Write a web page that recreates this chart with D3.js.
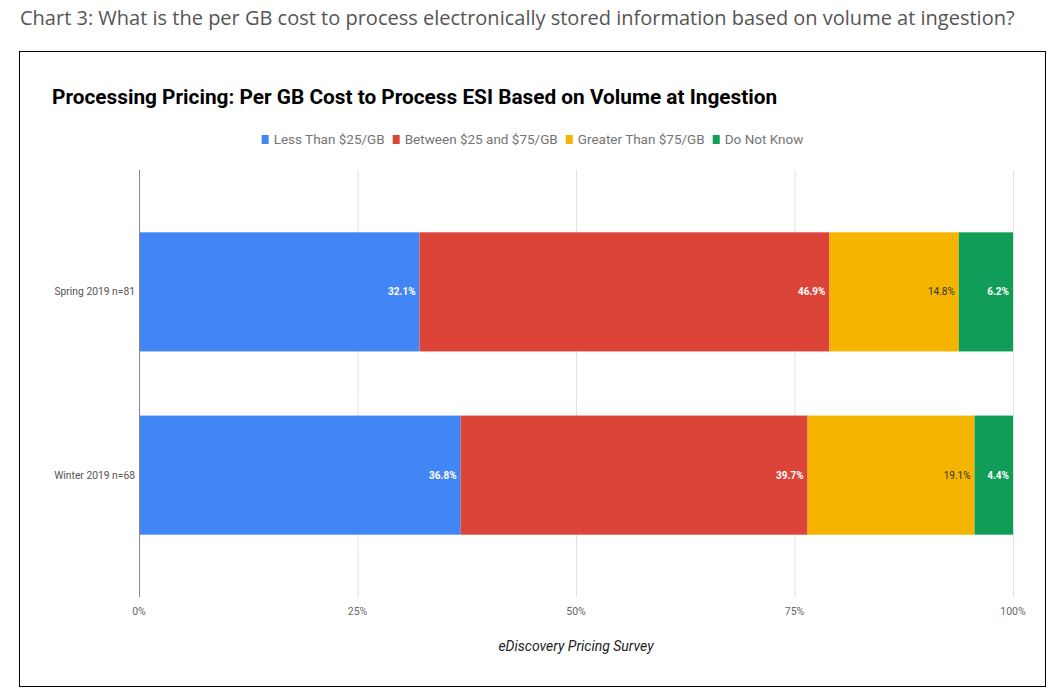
<!DOCTYPE html>
<html lang="en">
<head>
<meta charset="UTF-8">
<title>Processing Pricing</title>
<script src="https://cdn.jsdelivr.net/npm/d3@7"></script>
<style>
  body { margin: 0; background: #fff; }
  svg { display: block; }
</style>
</head>
<body>
<script>
// data
var categories = ["Spring 2019 n=81", "Winter 2019 n=68"];
var seriesNames = ["Less Than $25/GB", "Between $25 and $75/GB", "Greater Than $75/GB", "Do Not Know"];
var lessThan25 = [32.1, 36.8];
var between25and75 = [46.9, 39.7];
var greaterThan75 = [14.8, 19.1];
var doNotKnow = [6.2, 4.4];
var tickValues = [0, 25, 50, 75, 100];

var colors = ["#4285f4", "#db4437", "#f4b400", "#0f9d58"];
var labelColors = ["#fff", "#fff", "#333", "#fff"];

var W = 1061, H = 696;
var svg = d3.select("body").append("svg").attr("width", W).attr("height", H);

svg.append("rect").attr("width", W).attr("height", H).attr("fill", "#fff");

// page heading
svg.append("text")
    .attr("x", 20).attr("y", 25)
    .attr("font-family", "Open Sans")
    .attr("font-size", 20)
    .attr("fill", "#555")
    .text("Chart 3: What is the per GB cost to process electronically stored information based on volume at ingestion?");

// box
svg.append("rect")
    .attr("x", 19.5).attr("y", 51.5)
    .attr("width", 1026).attr("height", 635)
    .attr("fill", "#fff").attr("stroke", "#000").attr("stroke-width", 1);

svg.append("text")
    .attr("x", 52).attr("y", 104)
    .attr("font-family", "Roboto")
    .attr("font-weight", "bold")
    .attr("font-size", 20.8)
    .attr("fill", "#000")
    .text("Processing Pricing: Per GB Cost to Process ESI Based on Volume at Ingestion");

// stack the data
var rows = categories.map(function(c, i) {
    return { cat: c, vals: [lessThan25[i], between25and75[i], greaterThan75[i], doNotKnow[i]] };
});

var plotL = 139, plotR = 1013, plotT = 170, plotB = 597;
var x = d3.scaleLinear().domain([0, 100]).range([plotL, plotR]);
var y = d3.scaleBand().domain(categories).range([plotT, plotB])
    .paddingInner(0.35).paddingOuter(0.34);

// grid
svg.append("g").selectAll("line").data(tickValues.slice(1)).enter().append("line")
    .attr("x1", function(d) { return x(d) + 0.5; })
    .attr("x2", function(d) { return x(d) + 0.5; })
    .attr("y1", plotT).attr("y2", plotB)
    .attr("stroke", "#e0e0e0");

// bars
var g = svg.append("g");
rows.forEach(function(r) {
    var acc = 0;
    r.vals.forEach(function(v, k) {
        var x0 = acc, x1 = acc + v;
        acc = x1;
        g.append("rect")
            .attr("x", x(x0)).attr("width", x(x1) - x(x0))
            .attr("y", y(r.cat)).attr("height", y.bandwidth())
            .attr("fill", colors[k]);
        g.append("text")
            .attr("x", x(x1) - 4)
            .attr("y", y(r.cat) + y.bandwidth() / 2 + 3.5)
            .attr("text-anchor", "end")
            .attr("font-family", "Roboto")
            .attr("font-size", 10)
            .attr("font-weight", k == 2 ? "normal" : "bold")
            .attr("fill", labelColors[k])
            .text(v.toFixed(1) + "%");
    });
});

// baseline
svg.append("line")
    .attr("x1", plotL + 0.5).attr("x2", plotL + 0.5)
    .attr("y1", plotT).attr("y2", plotB)
    .attr("stroke", "#888");

// x tick labels
svg.append("g").selectAll("text").data(tickValues).enter().append("text")
    .attr("x", function(d) { return x(d); })
    .attr("y", 615)
    .attr("text-anchor", "middle")
    .attr("font-family", "Roboto")
    .attr("font-size", 10.5)
    .attr("fill", "#666")
    .text(function(d) { return d + "%"; });

// category labels
svg.append("g").selectAll("text").data(categories).enter().append("text")
    .attr("x", plotL - 4)
    .attr("y", function(d) { return y(d) + y.bandwidth() / 2 + 3.5; })
    .attr("text-anchor", "end")
    .attr("font-family", "Roboto")
    .attr("font-size", 10.3)
    .attr("fill", "#555")
    .text(function(d) { return d; });

// source
svg.append("text")
    .attr("x", (plotL + plotR) / 2).attr("y", 651)
    .attr("text-anchor", "middle")
    .attr("font-family", "Roboto")
    .attr("font-style", "italic")
    .attr("font-size", 14)
    .attr("fill", "#222")
    .text("eDiscovery Pricing Survey");

// legend, centered in the box
var leg = svg.append("g");
var lx = 0;
seriesNames.forEach(function(n, k) {
    var it = leg.append("g").attr("transform", "translate(" + lx + ",0)");
    it.append("rect").attr("x", 0).attr("y", -9).attr("width", 7).attr("height", 9).attr("fill", colors[k]);
    var t = it.append("text").attr("x", 12).attr("y", 0)
        .attr("font-family", "Roboto").attr("font-size", 13.5).attr("fill", "#757575")
        .text(n);
    lx += 12 + t.node().getComputedTextLength() + 8;
});
var legW = lx - 8;
leg.attr("transform", "translate(" + (532.5 - legW / 2) + ",144)");
</script>
</body>
</html>
